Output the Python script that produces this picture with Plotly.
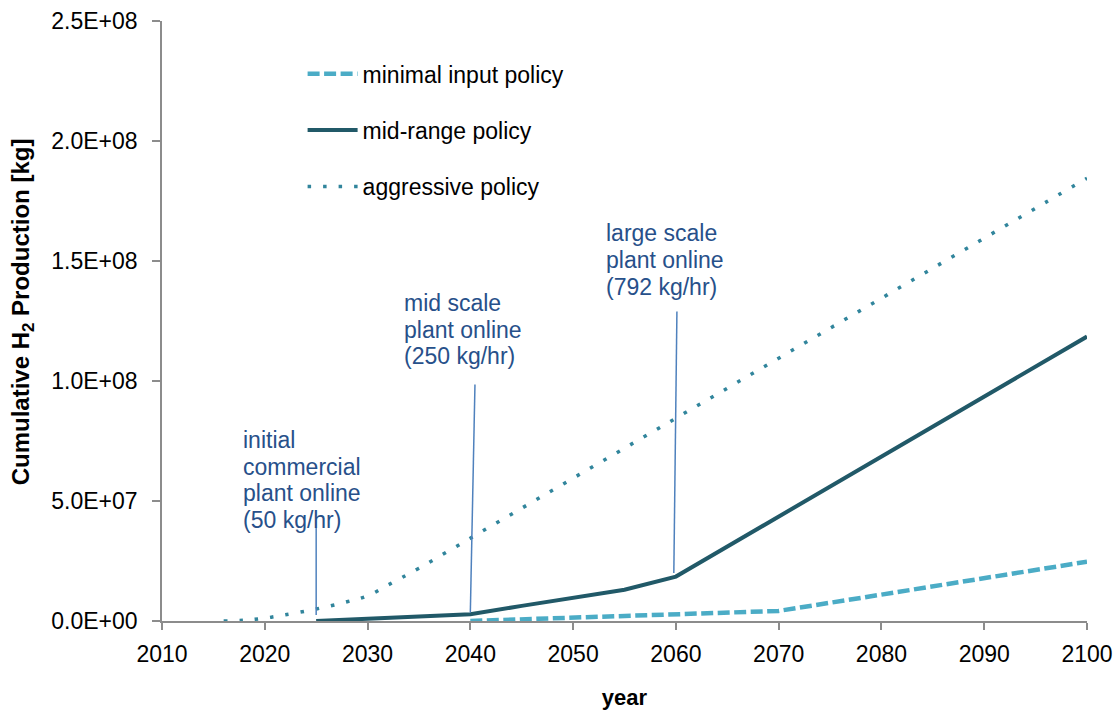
import plotly.graph_objects as go

# Cumulative hydrogen production under three policy scenarios
aggressive_years = [2016, 2018, 2020, 2022, 2025, 2028, 2030, 2032, 2035, 2040, 2045, 2050,
                    2055, 2060, 2065, 2070, 2075, 2080, 2085, 2090, 2095, 2100]
aggressive_kg = [0, 0.3e6, 1.2e6, 2.6e6, 5.0e6, 8.0e6, 1.05e7, 1.5e7, 2.2e7, 3.45e7, 4.7e7, 5.95e7,
                 7.2e7, 8.45e7, 9.7e7, 1.095e8, 1.22e8, 1.345e8, 1.47e8, 1.595e8, 1.72e8, 1.845e8]

midrange_years = [2025, 2030, 2035, 2040, 2045, 2050, 2055, 2060, 2070, 2080, 2090, 2100]
midrange_kg = [0, 0.9e6, 1.7e6, 2.8e6, 6.3e6, 9.7e6, 1.3e7, 1.85e7, 4.35e7, 6.85e7, 9.35e7, 1.185e8]

minimal_years = [2040, 2045, 2050, 2055, 2060, 2065, 2070, 2080, 2090, 2100]
minimal_kg = [0, 0.7e6, 1.3e6, 1.9e6, 2.6e6, 3.3e6, 4.2e6, 1.1e7, 1.78e7, 2.47e7]

y_tick_vals = [0, 5e7, 1e8, 1.5e8, 2e8, 2.5e8]
y_tick_text = ["0.0E+00", "5.0E+07", "1.0E+08", "1.5E+08", "2.0E+08", "2.5E+08"]
x_tick_vals = [2010, 2020, 2030, 2040, 2050, 2060, 2070, 2080, 2090, 2100]

# Plant milestones: label lines, leader line (x0, y0) -> (x1, y1), text anchor
milestones = [
    {"lines": ["initial", "commercial", "plant online", "(50 kg/hr)"],
     "leader": (2025.0, 0.25e7, 2025.0, 3.9e7), "text_at": (2017.65, 0.755e8)},
    {"lines": ["mid scale", "plant online", "(250 kg/hr)"],
     "leader": (2040.0, 0.35e7, 2040.45, 0.985e8), "text_at": (2033.35, 1.325e8)},
    {"lines": ["large scale", "plant online", "(792 kg/hr)"],
     "leader": (2059.8, 2.0e7, 2060.1, 1.29e8), "text_at": (2053.0, 1.615e8)},
]

FONT = "Liberation Sans, Arial, sans-serif"
NOTE_COLOR = "#27508A"
AXIS_COLOR = "#8C8C8C"

fig = go.Figure()

fig.add_trace(go.Scatter(
    x=minimal_years, y=minimal_kg, mode="lines", name="minimal input policy",
    legendgroup="a",
    line=dict(color="#4BACC6", width=4.5, dash="12px,4.5px"),
))
fig.add_trace(go.Scatter(
    x=midrange_years, y=midrange_kg, mode="lines", name="mid-range policy",
    legendgroup="b",
    line=dict(color="#215968", width=4),
))
fig.add_trace(go.Scatter(
    x=aggressive_years, y=aggressive_kg, mode="lines", name="aggressive policy",
    legendgroup="c", line_shape="spline",
    line=dict(color="#31859C", width=3.5, dash="3.5px,12px"),
))

annotations = []
shapes = []
LINE_PITCH = 26.7
for m in milestones:
    x0, y0, x1, y1 = m["leader"]
    shapes.append(dict(type="line", xref="x", yref="y", x0=x0, y0=y0, x1=x1, y1=y1,
                       line=dict(color="#4F81BD", width=1.5)))
    tx, ty = m["text_at"]
    for i, txt in enumerate(m["lines"]):
        annotations.append(dict(
            x=tx, y=ty, xref="x", yref="y", text=txt, showarrow=False,
            xanchor="left", yanchor="middle", yshift=-LINE_PITCH * i,
            font=dict(family=FONT, size=23, color=NOTE_COLOR),
        ))

annotations.append(dict(
    x=-0.151, y=0.515, xref="paper", yref="paper", textangle=-90,
    text="<b>Cumulative H<sub>2</sub> Production [kg]</b>", showarrow=False,
    xanchor="center", yanchor="middle",
    font=dict(family=FONT, size=24, color="#000000"),
))

fig.update_layout(
    width=1115, height=710,
    margin=dict(l=162, r=28, t=21, b=89, autoexpand=False),
    paper_bgcolor="white", plot_bgcolor="white",
    font=dict(family=FONT, size=23, color="#000000"),
    showlegend=True,
    legend=dict(
        x=0.152, y=0.948, xanchor="left", yanchor="top",
        bgcolor="rgba(0,0,0,0)", tracegroupgap=23.5,
        font=dict(family=FONT, size=23, color="#000000"),
        itemwidth=50,
    ),
    xaxis=dict(
        range=[2010, 2100], tickvals=x_tick_vals, showgrid=False, zeroline=False,
        automargin=False,
        showline=True, linecolor=AXIS_COLOR, linewidth=1.5,
        ticks="outside", ticklen=7, tickwidth=1.5, tickcolor=AXIS_COLOR,
        ticklabelstandoff=5,
        tickfont=dict(family=FONT, size=23, color="#000000"),
        title=dict(text="<b>year</b>", standoff=23,
                   font=dict(family=FONT, size=22, color="#000000")),
    ),
    yaxis=dict(
        range=[0, 2.5e8], tickvals=y_tick_vals, ticktext=y_tick_text,
        showgrid=False, zeroline=False, automargin=False,
        showline=True, linecolor=AXIS_COLOR, linewidth=1.5,
        ticks="outside", ticklen=8, tickwidth=1.5, tickcolor=AXIS_COLOR,
        ticklabelstandoff=10,
        tickfont=dict(family=FONT, size=23, color="#000000"),
    ),
    shapes=shapes,
    annotations=annotations,
)

fig.write_html("out.html")
